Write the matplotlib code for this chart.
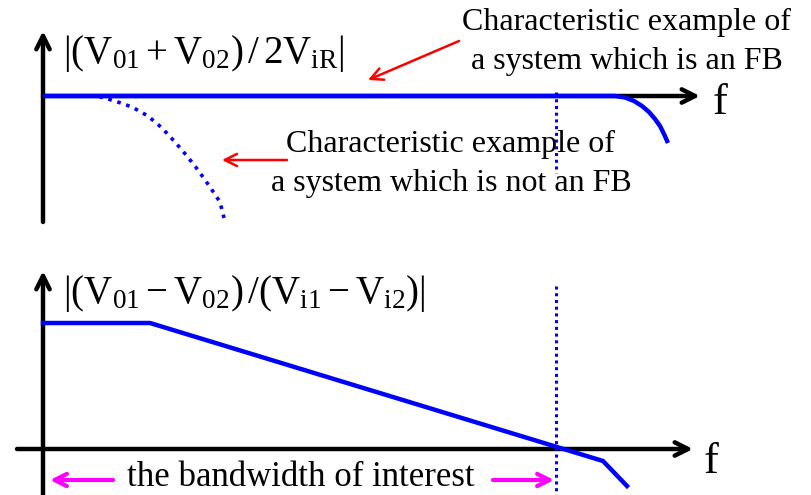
import matplotlib
matplotlib.use("Agg")
import matplotlib.pyplot as plt

plt.rcParams['font.family'] = ['Liberation Serif', 'DejaVu Serif']
plt.rcParams['mathtext.fontset'] = 'custom'
plt.rcParams['mathtext.rm'] = 'Liberation Serif'
plt.rcParams['mathtext.it'] = 'Liberation Serif:italic'

# schematic coordinates (frequency to the right, gain drawn downward in the canvas frame)
# top panel: common-mode response
fb_f = [43, 615, 625, 634, 642, 649, 655, 660, 664, 668]
fb_gain = [96, 96, 97.5, 101, 106, 112, 119, 126, 134, 143]
nonfb_f = [43, 97, 115, 132, 148, 162, 175, 187, 198, 210, 220, 224]
nonfb_gain = [96, 96, 101, 107, 116, 128, 142, 156, 170, 187, 202, 218]
# bottom panel: differential response
diff_f = [43, 150, 603, 627]
diff_gain = [323, 323, 461, 486]
f_band = 556

BLUE = '#0000ff'
RED = '#ff0000'
MAGENTA = '#ff00ff'

fig = plt.figure(figsize=(8.11, 4.95), dpi=100)
ax = fig.add_axes([0, 0, 1, 1])
ax.set_xlim(0, 811)
ax.set_ylim(495, 0)
ax.axis('off')

def arrow(ax, start, end, color, lw, ms=24, z=3):
    ax.annotate('', xy=end, xytext=start, zorder=z,
                arrowprops=dict(arrowstyle='->', color=color, lw=lw,
                                mutation_scale=ms, shrinkA=0, shrinkB=0))

# axes of the top panel
arrow(ax, (43, 222), (43, 31), 'black', 3.2)
arrow(ax, (43, 96), (700, 96), 'black', 3.2)
ax.text(713, 103, 'f', fontsize=32, ha='left', va='center')

# top curves
ax.plot(nonfb_f, nonfb_gain, color=BLUE, lw=2.6, ls=(0, (1, 1.6)), zorder=4)
ax.plot(fb_f, fb_gain, color=BLUE, lw=3.2, solid_capstyle='butt', zorder=5)
ax.plot([f_band, f_band], [92, 173], color=BLUE, lw=2.2, ls=(0, (1, 1.2)), zorder=4)

ax.text(63, 54, r'$\left|(\mathrm{V}_{\mathrm{01}}+\mathrm{V}_{\mathrm{02}})\,/\,2\mathrm{V}_{\mathrm{iR}}\right|$',
        fontsize=28, ha='left', va='center')

ax.text(627, 42, 'Characteristic example of\na system which is an FB',
        fontsize=23, ha='center', va='center', linespacing=1.45)
arrow(ax, (459, 41), (368, 80), RED, 1.8, ms=22)

ax.text(451, 164, 'Characteristic example of\na system which is not an FB',
        fontsize=23, ha='center', va='center', linespacing=1.45)
arrow(ax, (287, 160), (222, 160), RED, 1.8, ms=22)

# axes of the bottom panel
arrow(ax, (43, 495), (43, 271), 'black', 3.2)
arrow(ax, (17, 449), (693, 449), 'black', 3.2)
ax.text(704, 462, 'f', fontsize=32, ha='left', va='center')

ax.plot(diff_f, diff_gain, color=BLUE, lw=3.2, zorder=5)
ax.plot([f_band, f_band], [286, 495], color=BLUE, lw=2.2, ls=(0, (1, 1.2)), zorder=4)

ax.text(63, 293, r'$\left|(\mathrm{V}_{\mathrm{01}}-\mathrm{V}_{\mathrm{02}})\,/(\mathrm{V}_{\mathrm{i1}}-\mathrm{V}_{\mathrm{i2}})\right|$',
        fontsize=28, ha='left', va='center')

ax.text(301, 477, 'the bandwidth of interest', fontsize=25, ha='center', va='center')
arrow(ax, (113, 480), (50, 480), MAGENTA, 3.0, ms=22)
arrow(ax, (493, 480), (554, 480), MAGENTA, 3.0, ms=22)

fig.savefig('out.png', dpi=100)
